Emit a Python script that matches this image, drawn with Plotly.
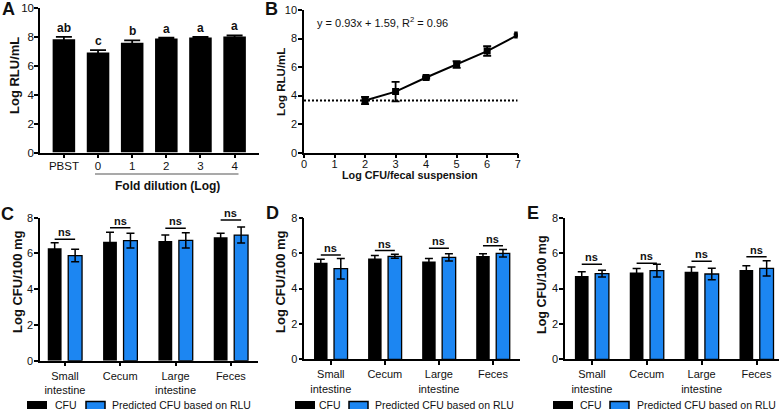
import plotly.graph_objects as go

# ---------------- data ----------------
a_categories = ["PBST", "0", "1", "2", "3", "4"]
a_means = [7.84, 6.92, 7.60, 7.89, 7.95, 8.02]
a_errors = [0.16, 0.17, 0.16, 0.06, 0.05, 0.08]
a_letters = ["ab", "c", "b", "a", "a", "a"]

b_x = [2, 3, 4, 5, 6, 7]
b_means = [3.66, 4.28, 5.27, 6.18, 7.12, 8.24]
b_errors = [0.25, 0.68, 0.07, 0.23, 0.34, 0.07]
b_lod = 3.65
b_equation = "y = 0.93x + 1.59, R<sup>2</sup> = 0.96"

sites = ["Small intestine", "Cecum", "Large intestine", "Feces"]
site_labels = ["Small<br>intestine", "Cecum", "Large<br>intestine", "Feces"]

c_cfu = [6.29, 6.66, 6.70, 6.90]
c_cfu_err = [0.31, 0.52, 0.33, 0.23]
c_pred = [5.88, 6.72, 6.73, 7.03]
c_pred_err = [0.35, 0.41, 0.43, 0.45]
c_ns = [6.79, 7.44, 7.41, 7.87]

d_cfu = [5.46, 5.70, 5.52, 5.84]
d_cfu_err = [0.19, 0.16, 0.18, 0.13]
d_pred = [5.12, 5.82, 5.76, 5.99]
d_pred_err = [0.58, 0.11, 0.21, 0.21]
d_ns = [5.89, 6.14, 6.27, 6.42]

e_cfu = [4.70, 4.90, 4.95, 5.05]
e_cfu_err = [0.25, 0.23, 0.27, 0.24]
e_pred = [4.84, 5.01, 4.82, 5.14]
e_pred_err = [0.19, 0.36, 0.32, 0.43]
e_ns = [5.37, 5.42, 5.54, 5.80]

# ---------------- style ----------------
W, H = 780, 409
FONT = "Arial, Liberation Sans, Helvetica, sans-serif"
BLUE = "#1c86f2"
INK = "#111111"


def px(x):
    return x / W


def py(y):
    return 1 - y / H


fig = go.Figure()

# Panel A
fig.add_trace(go.Bar(
    x=a_categories, y=a_means, width=0.66,
    marker=dict(color="black", line=dict(width=0)),
    error_y=dict(type="data", array=a_errors, color="black", thickness=1.8, width=8),
    xaxis="x", yaxis="y", showlegend=False))

# Panel B
fig.add_trace(go.Scatter(
    x=[0, 7], y=[b_lod, b_lod], mode="lines",
    line=dict(color="black", width=2, dash="2px,2px"),
    xaxis="x2", yaxis="y2", showlegend=False))
fig.add_trace(go.Scatter(
    x=b_x, y=b_means, mode="lines+markers",
    line=dict(color="black", width=2),
    marker=dict(symbol="square", size=7, color="black"),
    error_y=dict(type="data", array=b_errors, color="black", thickness=1.8, width=4),
    xaxis="x2", yaxis="y2", showlegend=False))

# Panels C, D, E
panels = [
    ("x3", "y3", c_cfu, c_cfu_err, c_pred, c_pred_err, c_ns),
    ("x4", "y4", d_cfu, d_cfu_err, d_pred, d_pred_err, d_ns),
    ("x5", "y5", e_cfu, e_cfu_err, e_pred, e_pred_err, e_ns),
]
HALF = 0.185
BW = 0.25
shapes = []
annotations = []
for xa, ya, cfu, cfu_err, pred, pred_err, ns in panels:
    fig.add_trace(go.Bar(
        x=sites, y=cfu, width=BW, offset=-HALF - BW / 2,
        marker=dict(color="black", line=dict(width=0)),
        error_y=dict(type="data", array=cfu_err, color="black", thickness=1.5, width=4),
        xaxis=xa, yaxis=ya, showlegend=False))
    fig.add_trace(go.Bar(
        x=sites, y=pred, width=BW, offset=HALF - BW / 2,
        marker=dict(color=BLUE, line=dict(width=1.3, color="black")),
        error_y=dict(type="data", array=pred_err, color="black", thickness=1.5, width=4),
        xaxis=xa, yaxis=ya, showlegend=False))
    for i, h in enumerate(ns):
        shapes.append(dict(type="line", xref=xa, yref=ya,
                           x0=i - HALF, x1=i + HALF, y0=h, y1=h,
                           line=dict(color="black", width=1.5)))
        annotations.append(dict(xref=xa, yref=ya, x=i, y=h, text="<b>ns</b>",
                                showarrow=False, yanchor="bottom", yshift=-1,
                                font=dict(size=11, color=INK, family=FONT)))

# letters in A (placed by category index)
for i, (m, e, lab) in enumerate(zip(a_means, a_errors, a_letters)):
    annotations.append(dict(xref="x", yref="y", x=i, y=m + e, text="<b>%s</b>" % lab,
                            showarrow=False, yanchor="bottom", yshift=0,
                            font=dict(size=12, color=INK, family=FONT)))

# ---------------- axes ----------------
def axis_style(**kw):
    d = dict(showline=True, linecolor="black", linewidth=1.5, ticks="outside",
             ticklen=4, tickwidth=1.5, tickcolor="black", showgrid=False,
             zeroline=False, fixedrange=True, automargin=False,
             tickfont=dict(size=11, color=INK, family=FONT))
    d.update(kw)
    return d


layout_axes = dict(
    xaxis=axis_style(domain=[px(40), px(258.5)], anchor="y", type="category",
                     categoryorder="array", categoryarray=a_categories,
                     range=[-0.7, 5.7], ticklabelstandoff=-2,
                     tickfont=dict(size=11.5, color=INK, family=FONT)),
    yaxis=axis_style(domain=[py(152.5), py(8)], anchor="x", range=[0, 10],
                     tickvals=[0, 2, 4, 6, 8, 10], ticklabelstandoff=-2,
                     tickfont=dict(size=11.5, color=INK, family=FONT)),
    xaxis2=axis_style(domain=[px(304), px(517.7)], anchor="y2", range=[0, 7],
                      tickvals=[0, 1, 2, 3, 4, 5, 6, 7], ticklabelstandoff=-4),
    yaxis2=axis_style(domain=[py(152.7), py(10)], anchor="x2", range=[0, 10],
                      tickvals=[0, 2, 4, 6, 8, 10], ticklabelstandoff=-1),
)
cde_x = [([40, 258], [-0.45, 3.49]), ([304.3, 520], [-0.49, 3.5]), ([565, 779], [-0.49, 3.41])]
cde_y = [[360.7, 217.7], [359.3, 217.7], [359.3, 217.7]]
for k, ((dx, rx), dy) in enumerate(zip(cde_x, cde_y)):
    n = k + 3
    layout_axes["xaxis%d" % n] = axis_style(
        domain=[px(dx[0]), px(dx[1])], anchor="y%d" % n, type="category",
        categoryorder="array", categoryarray=sites, range=rx,
        tickvals=sites, ticktext=site_labels)
    layout_axes["yaxis%d" % n] = axis_style(
        domain=[py(dy[0]), py(dy[1])], anchor="x%d" % n, range=[0, 8],
        tickvals=[0, 2, 4, 6, 8], ticklabelstandoff=-1)

# ---------------- texts ----------------
def paper_text(x, y, text, size, bold=False, angle=0, xanchor="center", yanchor="middle"):
    annotations.append(dict(xref="paper", yref="paper", x=px(x), y=py(y),
                            text=("<b>%s</b>" % text) if bold else text,
                            showarrow=False, textangle=angle,
                            xanchor=xanchor, yanchor=yanchor,
                            font=dict(size=size, color=INK, family=FONT)))


for lab, x, y in [("A", 8.5, 9), ("B", 271.5, 9), ("C", 7.5, 214), ("D", 272, 213), ("E", 532.5, 213)]:
    paper_text(x, y, lab, 18, bold=True)

paper_text(15, 76, "Log RLU/mL", 13, bold=True, angle=-90)
paper_text(281, 82, "Log RLU/mL", 11.5, bold=True, angle=-90)
paper_text(17, 282, "Log CFU/100 mg", 13, bold=True, angle=-90)
paper_text(280, 282, "Log CFU/100 mg", 13, bold=True, angle=-90)
paper_text(542, 285, "Log CFU/100 mg", 12.5, bold=True, angle=-90)

paper_text(410, 175, "Log CFU/fecal suspension", 10.8, bold=True)
paper_text(167, 185.5, "Fold dilution (Log)", 12, bold=True)
paper_text(315, 22, b_equation, 11, xanchor="left")

shapes.append(dict(type="line", xref="paper", yref="paper",
                   x0=px(95), x1=px(238.5), y0=py(174), y1=py(174),
                   line=dict(color="#8c8c8c", width=1.5)))

# legends for C, D, E
legend_pos = [(27, 53, 86, 110), (295, 317, 349, 373), (553, 578, 610, 635)]
for bx, tx, sx, tx2 in legend_pos:
    shapes.append(dict(type="rect", xref="paper", yref="paper",
                       x0=px(bx), x1=px(bx + 20), y0=py(412), y1=py(401),
                       fillcolor="black", line=dict(width=0)))
    shapes.append(dict(type="rect", xref="paper", yref="paper",
                       x0=px(sx), x1=px(sx + 19), y0=py(412), y1=py(401.5),
                       fillcolor=BLUE, line=dict(width=1.5, color="black")))
    paper_text(tx, 404.5, "CFU", 10.5, xanchor="left")
    paper_text(tx2, 404.5, "Predicted CFU based on RLU", 10.5, xanchor="left")

fig.update_layout(
    width=W, height=H, margin=dict(l=0, r=0, t=0, b=0),
    paper_bgcolor="white", plot_bgcolor="white",
    barmode="overlay", showlegend=False,
    font=dict(family=FONT, color=INK),
    shapes=shapes, annotations=annotations,
    **layout_axes,
)

fig.write_html("out.html", config={"displayModeBar": False},
               post_script="document.body.style.margin='0';document.body.style.padding='0';")
